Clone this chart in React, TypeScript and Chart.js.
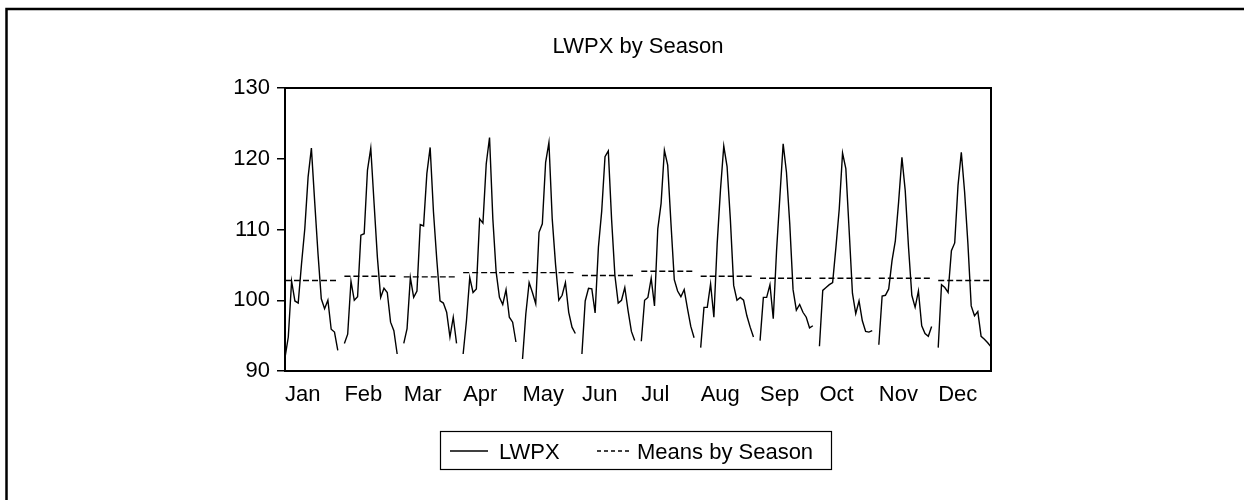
import React, { useEffect, useRef } from "react";
import { Chart, registerables } from "chart.js";

Chart.register(...registerables);

const TITLE = "LWPX by Season";
const MONTHS = ["Jan", "Feb", "Mar", "Apr", "May", "Jun", "Jul", "Aug", "Sep", "Oct", "Nov", "Dec"];
const Y_TICKS = [90, 100, 110, 120, 130];

const JAN = [91.9, 94.8, 102.7, 99.9, 99.6, 105.1, 110.1, 117.4, 121.5, 113.9, 106.6, 100.2, 98.8, 100.0, 95.9, 95.5, 92.9];
const FEB = [93.9, 95.2, 102.7, 100.0, 100.5, 109.2, 109.4, 118.4, 121.5, 113.7, 106.1, 100.4, 101.7, 101.1, 96.9, 95.7, 92.4];
const MAR = [93.9, 96.0, 103.2, 100.4, 101.3, 110.7, 110.5, 117.9, 121.6, 112.5, 105.8, 99.9, 99.6, 98.3, 94.8, 97.6, 93.9];
const APR = [92.4, 97.1, 103.2, 101.1, 101.6, 111.5, 110.9, 119.3, 123.0, 111.5, 104.0, 100.4, 99.4, 101.5, 97.6, 96.9, 94.1];
const MAY = [91.7, 98.1, 102.5, 101.1, 99.5, 109.6, 110.8, 119.5, 122.3, 111.5, 105.1, 100.0, 100.7, 102.5, 98.3, 96.2, 95.3];
const JUN = [92.4, 99.9, 101.7, 101.6, 98.2, 107.5, 112.6, 120.3, 121.1, 111.4, 103.5, 99.6, 100.0, 101.8, 98.5, 95.6, 94.3];
const JUL = [94.2, 100.0, 100.4, 103.1, 99.2, 110.1, 113.7, 121.2, 119.1, 110.8, 102.9, 101.3, 100.5, 101.5, 98.8, 96.3, 94.7];
const AUG = [93.3, 99.0, 99.0, 102.3, 97.6, 108.0, 115.6, 121.8, 118.9, 111.4, 102.1, 100.0, 100.4, 100.0, 97.8, 96.2, 94.8];
const SEP = [94.3, 100.4, 100.4, 102.2, 97.4, 107.0, 114.6, 122.1, 118.1, 110.8, 101.5, 98.6, 99.4, 98.3, 97.6, 96.1, 96.4];
const OCT = [93.5, 101.4, 101.8, 102.2, 102.5, 107.5, 112.9, 120.8, 118.6, 109.9, 101.0, 98.1, 99.9, 97.1, 95.6, 95.5, 95.7];
const NOV = [93.7, 100.6, 100.7, 101.6, 105.6, 108.4, 113.9, 120.2, 115.5, 107.5, 100.7, 99.0, 101.3, 96.4, 95.3, 94.9, 96.3];
const DEC = [93.3, 102.2, 101.8, 101.1, 107.0, 108.1, 116.2, 120.9, 115.3, 108.0, 99.2, 97.8, 98.4, 94.9, 94.5, 94.0, 93.4];

const SEASONS = [JAN, FEB, MAR, APR, MAY, JUN, JUL, AUG, SEP, OCT, NOV, DEC];
const MEANS = [102.8, 103.4, 103.3, 103.9, 103.9, 103.5, 104.1, 103.4, 103.1, 103.1, 103.1, 102.8];

const PERIOD = 18; // slots per season panel (17 years + gap)
const FONT = "'Liberation Sans', Arial, sans-serif";

const seriesPoints: { x: number; y: number | null }[] = [];
SEASONS.forEach((vals, m) => {
  vals.forEach((v, i) => seriesPoints.push({ x: m * PERIOD + i, y: v }));
  seriesPoints.push({ x: m * PERIOD + vals.length, y: null });
});
const meanPoints: { x: number; y: number | null }[] = [];
MEANS.forEach((v, m) => {
  const n = SEASONS[m].length;
  meanPoints.push({ x: m * PERIOD, y: v });
  meanPoints.push({ x: m * PERIOD + n - 1, y: v });
  meanPoints.push({ x: m * PERIOD + n, y: null });
});
const X_MAX = (MONTHS.length - 1) * PERIOD + SEASONS[SEASONS.length - 1].length - 1;

const decorPlugin = {
  id: "decor",
  afterDraw(chart: any) {
    const ctx = chart.ctx as CanvasRenderingContext2D;
    const a = chart.chartArea;
    ctx.save();
    ctx.strokeStyle = "#000";
    ctx.fillStyle = "#000";
    // plot frame
    ctx.lineWidth = 2;
    ctx.setLineDash([]);
    ctx.strokeRect(a.left, a.top, a.right - a.left, a.bottom - a.top);
    // outer graph frame (top & left)
    ctx.lineWidth = 2.5;
    ctx.beginPath();
    ctx.moveTo(6.5, 500);
    ctx.lineTo(6.5, 9);
    ctx.lineTo(1244, 9);
    ctx.stroke();
    // title
    ctx.font = `22px ${FONT}`;
    ctx.textAlign = "center";
    ctx.textBaseline = "alphabetic";
    ctx.fillText(TITLE, (a.left + a.right) / 2, 53);
    // legend
    const ds = chart.data.datasets;
    ctx.lineWidth = 1.2;
    ctx.strokeRect(440.5, 431.5, 391, 38);
    ctx.font = `22px ${FONT}`;
    ctx.textAlign = "left";
    const ly = 451;
    ctx.lineWidth = 1.4;
    ctx.beginPath();
    ctx.moveTo(450, ly);
    ctx.lineTo(488, ly);
    ctx.stroke();
    ctx.fillText(ds[0].label, 499, 459);
    ctx.setLineDash([4, 3]);
    ctx.beginPath();
    ctx.moveTo(597, ly);
    ctx.lineTo(632, ly);
    ctx.stroke();
    ctx.setLineDash([]);
    ctx.fillText(ds[1].label, 637, 459);
    ctx.restore();
  },
};

export default function App() {
  const ref = useRef<HTMLCanvasElement | null>(null);
  useEffect(() => {
    if (!ref.current) return;
    const chart = new Chart(ref.current, {
      type: "line",
      data: {
        datasets: [
          {
            label: "LWPX",
            data: seriesPoints as any,
            borderColor: "#000",
            borderWidth: 1.4,
            pointRadius: 0,
            spanGaps: false,
            tension: 0,
          },
          {
            label: "Means by Season",
            data: meanPoints as any,
            borderColor: "#000",
            borderWidth: 1.4,
            borderDash: [6, 3],
            pointRadius: 0,
            spanGaps: false,
            tension: 0,
          },
        ],
      },
      options: {
        animation: false,
        responsive: false,
        events: [],
        layout: { padding: { left: 185, right: 253, top: 88, bottom: 89 } },
        plugins: { legend: { display: false }, title: { display: false }, tooltip: { enabled: false } },
        scales: {
          x: {
            type: "linear",
            min: 0,
            max: X_MAX,
            grid: { display: false },
            border: { display: false },
            afterBuildTicks: (s: any) => {
              s.ticks = MONTHS.map((_, i) => ({ value: i * PERIOD }));
            },
            afterFit: (s: any) => {
              s.height = 40;
            },
            ticks: {
              autoSkip: false,
              maxRotation: 0,
              align: "start",
              padding: 3,
              color: "#000",
              font: { family: FONT, size: 22 },
              callback: (v: any) => MONTHS[Math.round(Number(v) / PERIOD)],
            },
          },
          y: {
            min: 90,
            max: 130,
            afterBuildTicks: (s: any) => {
              s.ticks = Y_TICKS.map((v) => ({ value: v }));
            },
            afterFit: (s: any) => {
              s.width = 100;
            },
            grid: { drawOnChartArea: false, drawTicks: true, tickLength: 8, color: "#000", lineWidth: 1.5 },
            border: { display: false },
            ticks: { padding: 7, color: "#000", font: { family: FONT, size: 22 } },
          },
        },
      },
      plugins: [decorPlugin],
    });
    return () => chart.destroy();
  }, []);
  return (
    <div style={{ position: "fixed", left: 0, top: 0, width: 1244, height: 500, background: "#fff" }}>
      <canvas ref={ref} width={1244} height={500} style={{ width: 1244, height: 500, display: "block" }} />
    </div>
  );
}
